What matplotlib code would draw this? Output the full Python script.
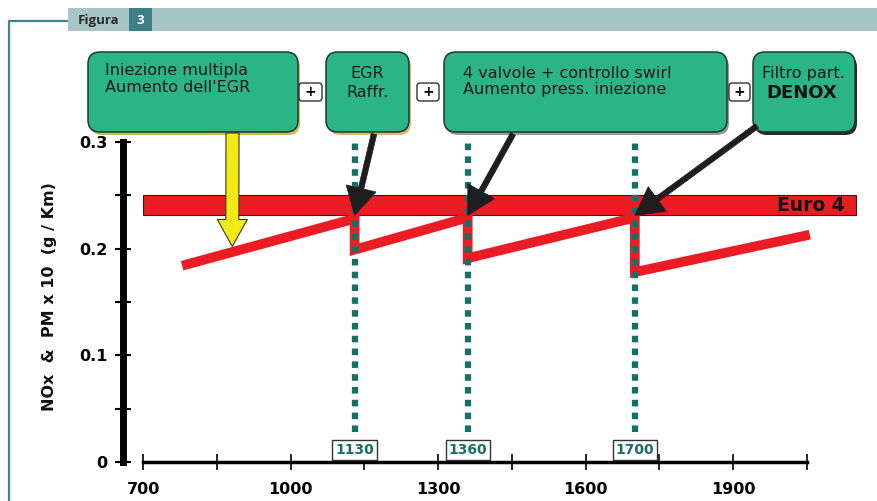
import matplotlib.pyplot as plt
from matplotlib.patches import FancyBboxPatch, Rectangle

# values
x_ticks = list(range(700, 2051, 150))
x_labels = ['700', '', '1000', '', '1300', '', '1600', '', '1900', '']
y_ticks = [0, 0.05, 0.1, 0.15, 0.2, 0.25, 0.3]
y_labels = ['0', '', '0.1', '', '0.2', '', '0.3']

euro4_low = 0.231
euro4_high = 0.250
euro4_start = 700
euro4_end = 2150

step_x = [1130, 1360, 1700]
step_labels = ['1130', '1360', '1700']

saw_x = [779, 1130, 1130, 1360, 1360, 1700, 1700, 2056]
saw_y = [0.184, 0.228, 0.199, 0.229, 0.191, 0.229, 0.178, 0.213]

yellow_tip = (881, 0.202)

box_texts = ["Iniezione multipla\nAumento dell'EGR", "EGR\nRaffr.",
             "4 valvole + controllo swirl\nAumento press. iniezione"]

# colours
red = '#ec1c24'
teal = '#137168'
green = '#2bb486'

W, H = 877, 501
fig = plt.figure(figsize=(W / 100, H / 100), dpi=100)
fig.patch.set_facecolor('white')

# main plot axes
ax = fig.add_axes([123 / W, 1 - 470 / H, (870 - 123) / W, (470 - 135) / H])
ax.set_xlim(658.7, 2178.5)
ax.set_ylim(-0.0072, 0.3063)
ax.patch.set_alpha(0)

for s in ['top', 'right']:
    ax.spines[s].set_visible(False)
ax.spines['left'].set_bounds(0, 0.3)
ax.spines['left'].set_linewidth(5)
ax.spines['bottom'].set_position(('data', 0))
ax.spines['bottom'].set_bounds(700, 2050)
ax.spines['bottom'].set_linewidth(2.5)

ax.set_xticks(x_ticks)
ax.set_xticklabels(x_labels)
ax.set_yticks(y_ticks)
ax.set_yticklabels(y_labels)
ax.tick_params(axis='y', direction='inout', length=12, width=1.5, pad=5, labelsize=11.5)
ax.tick_params(axis='x', direction='inout', length=12, width=1.2, pad=8, labelsize=11.5)
for lab in ax.get_xticklabels() + ax.get_yticklabels():
    lab.set_fontweight('bold')

# Euro 4 band
ax.add_patch(Rectangle((euro4_start, euro4_low), euro4_end - euro4_start, euro4_high - euro4_low,
                       facecolor=red, edgecolor='#222222', linewidth=0.8, zorder=2))
ax.text(euro4_end - 22, (euro4_low + euro4_high) / 2, 'Euro 4', ha='right', va='center',
        fontsize=13.5, fontweight='bold', color='#111111', zorder=3)

# sawtooth emissions line
ax.plot(saw_x, saw_y, color=red, linewidth=7, solid_capstyle='butt', solid_joinstyle='miter', zorder=3)

# dotted markers
for xv, lab in zip(step_x, step_labels):
    ax.plot([xv, xv], [0.028, 0.303], color=teal, linewidth=4.5, linestyle=(0, (1.05, 1.0)),
            dash_capstyle='butt', zorder=4)
    ax.text(xv, 0.0115, lab, ha='center', va='center', fontsize=10, fontweight='bold', color='#176d6a',
            zorder=5, bbox=dict(boxstyle='square,pad=0.2', facecolor='white', edgecolor='#333333', linewidth=1))

# overlay in pixel coordinates for header, boxes and arrows
ov = fig.add_axes([0, 0, 1, 1], zorder=5)
ov.set_xlim(0, W)
ov.set_ylim(H, 0)
ov.axis('off')

# header
ov.add_patch(Rectangle((68, 8), W - 68, 23, facecolor='#a7c5c7', edgecolor='none'))
ov.add_patch(Rectangle((129, 8), 23, 23, facecolor='#3b7f87', edgecolor='none'))
ov.text(78, 20, 'Figura', ha='left', va='center', fontsize=9.5, fontweight='bold',
        family='Open Sans', color='#2b2b2b')
ov.text(140.5, 20, '3', ha='center', va='center', fontsize=9.5, fontweight='bold',
        family='Open Sans', color='white')
ov.plot([8.5, 8.5, 68], [H, 20.5, 20.5], color='#3d838b', linewidth=1.6, solid_capstyle='butt')

# green boxes
boxes = [(88, 52, 298, 132, '#cdb860'), (326, 52, 409, 132, '#e2b574'),
         (444, 52, 727, 132, '#9a9a9a'), (753, 52, 855, 132, '#2a2a2a')]
for x0, y0, x1, y1, sh in boxes:
    ov.add_patch(FancyBboxPatch((x0 + 2, y0 + 3), x1 - x0, y1 - y0,
                                boxstyle='round,pad=0,rounding_size=12',
                                facecolor=sh, edgecolor='none', zorder=1))
    ov.add_patch(FancyBboxPatch((x0, y0), x1 - x0, y1 - y0,
                                boxstyle='round,pad=0,rounding_size=12',
                                facecolor=green, edgecolor='#1b3a2e', linewidth=1.1, zorder=2))

ov.text(105, 79, box_texts[0], ha='left', va='center', fontsize=11.5, color='#1a1a1a',
        linespacing=1.15, zorder=3)
ov.text(367, 83, box_texts[1], ha='center', va='center', fontsize=11.5, color='#1a1a1a',
        linespacing=1.3, zorder=3)
ov.text(463, 81.5, box_texts[2], ha='left', va='center', fontsize=11.5, color='#1a1a1a',
        linespacing=1.1, zorder=3)
ov.text(803, 73, 'Filtro part.', ha='center', va='center', fontsize=11.5, color='#1a1a1a', zorder=3)
ov.text(802, 93, 'DENOX', ha='center', va='center', fontsize=13, fontweight='bold',
        color='#111111', zorder=3)

# plus signs
for x0, x1 in [(299, 322), (417, 439), (729, 750)]:
    ov.add_patch(FancyBboxPatch((x0, 83), x1 - x0, 18, boxstyle='round,pad=0,rounding_size=3',
                                facecolor='white', edgecolor='#333333', linewidth=1, zorder=3))
    ov.text((x0 + x1) / 2, 92, '+', ha='center', va='center', fontsize=10, fontweight='bold', zorder=4)

# arrows
ov.annotate('', xy=yellow_tip, xycoords=ax.transData, xytext=(232.5, 133), textcoords='data',
            arrowprops=dict(arrowstyle='simple,head_length=0.97,head_width=1.08,tail_width=0.47',
                            mutation_scale=20, facecolor='#f2ea17', edgecolor='#3a3a10',
                            linewidth=0.8, shrinkA=0, shrinkB=0), zorder=6)
starts = [(374, 134), (513, 134), (757, 126)]
for xv, st in zip(step_x, starts):
    ov.annotate('', xy=(xv, euro4_low), xycoords=ax.transData, xytext=st, textcoords='data',
                arrowprops=dict(arrowstyle='simple,head_length=1.0,head_width=1.1,tail_width=0.2',
                                mutation_scale=20, facecolor='#1e1e1e', edgecolor='#1e1e1e',
                                linewidth=0.5, shrinkA=0, shrinkB=0), zorder=6)

# y label
ov.text(50, 297, 'NOx  &  PM x 10  (g / Km)', rotation=90, ha='center', va='center',
        fontsize=11.5, fontweight='bold', color='#111111')

fig.savefig('out.png', dpi=100)
